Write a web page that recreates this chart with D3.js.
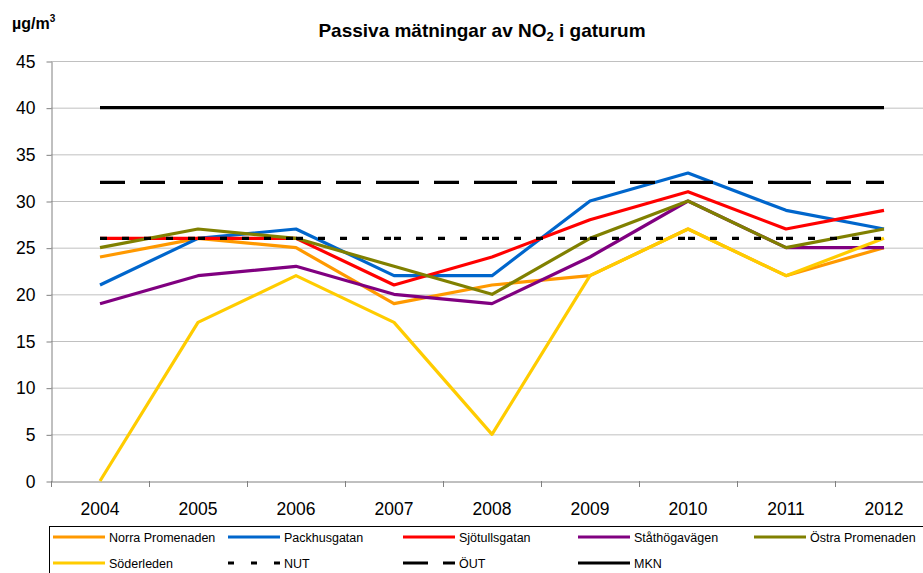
<!DOCTYPE html>
<html><head><meta charset="utf-8">
<script src="https://cdn.jsdelivr.net/npm/d3@7"></script>
<style>body{margin:0;background:#fff}svg{display:block;font-family:"Liberation Sans",Arial,sans-serif}</style>
</head><body>
<svg id="c" width="923" height="573"></svg>
<script>
const years = ["2004","2005","2006","2007","2008","2009","2010","2011","2012"];
const yTicks = [0,5,10,15,20,25,30,35,40,45];
const norraPromenaden = [24,26,25,19,21,22,27,22,25];
const packhusgatan    = [21,26,27,22,22,30,33,29,27];
const sjotullsgatan   = [26,26,26,21,24,28,31,27,29];
const stathogavagen   = [19,22,23,20,19,24,30,25,25];
const ostraPromenaden = [25,27,26,23,20,26,30,25,27];
const soderleden      = [0,17,22,17,5,22,27,22,26];
const nut = [26,26,26,26,26,26,26,26,26];
const out = [32,32,32,32,32,32,32,32,32];
const mkn = [40,40,40,40,40,40,40,40,40];

const series = [
  {name:"Norra Promenaden", values:norraPromenaden, color:"#FF9900", dash:null},
  {name:"Packhusgatan", values:packhusgatan, color:"#0066CC", dash:null},
  {name:"Sjötullsgatan", values:sjotullsgatan, color:"#FF0000", dash:null},
  {name:"Ståthögavägen", values:stathogavagen, color:"#800080", dash:null},
  {name:"Östra Promenaden", values:ostraPromenaden, color:"#808000", dash:null},
  {name:"Söderleden", values:soderleden, color:"#FFCC00", dash:null},
  {name:"NUT", values:nut, color:"#000000", dash:"7,15"},
  {name:"ÖUT", values:out, color:"#000000", dash:"25,15"},
  {name:"MKN", values:mkn, color:"#000000", dash:null}
];

const svg = d3.select("#c");
const x = d3.scaleBand().domain(years).range([51,933]).padding(0);
const y = d3.scaleLinear().domain([0,45]).range([481,61]);
const cx = d => x(d) + x.bandwidth()/2;
const FF = "Liberation Sans, Arial, sans-serif";

// gridlines
svg.append("g").selectAll("line").data(yTicks.filter(t=>t>0)).join("line")
  .attr("x1",51).attr("x2",923).attr("y1",d=>y(d)+0.5).attr("y2",d=>y(d)+0.5)
  .attr("stroke","#c0c0c0").attr("stroke-width",1);

// y axis
const ya = svg.append("g").attr("transform","translate(51.5,0.5)")
  .call(d3.axisLeft(y).tickValues(yTicks).tickSize(5).tickSizeOuter(0).tickPadding(11));
ya.select(".domain").attr("stroke","#808080");
ya.selectAll(".tick line").attr("stroke","#808080");
ya.selectAll("text").attr("font-size","17.5px").attr("fill","#000").attr("font-family",FF);

// x axis
const xa = svg.append("g").attr("transform","translate(0,481.5)")
  .call(d3.axisBottom(x).tickSize(0).tickPadding(21).tickSizeOuter(0));
xa.select(".domain").attr("stroke","#808080");
xa.selectAll("text").attr("font-size","17.5px").attr("fill","#000").attr("font-family",FF);
svg.append("g").selectAll("line").data(years).join("line")
  .attr("x1",d=>Math.round(x(d))+0.5).attr("x2",d=>Math.round(x(d))+0.5)
  .attr("y1",481).attr("y2",487).attr("stroke","#808080");

// series lines: drawn segment by segment (dash pattern restarts at each point)
series.forEach(s=>{
  const g = svg.append("g");
  if(s.dash){
    const segs = d3.pairs(s.values.map((v,i)=>[cx(years[i]), y(v)]));
    g.selectAll("line").data(segs).join("line")
      .attr("x1",d=>d[0][0]).attr("y1",d=>d[0][1]).attr("x2",d=>d[1][0]).attr("y2",d=>d[1][1])
      .attr("stroke",s.color).attr("stroke-width",3.2).attr("stroke-dasharray",s.dash);
  } else {
    const line = d3.line().x((v,i)=>cx(years[i])).y(v=>y(v));
    g.append("path").attr("d",line(s.values)).attr("fill","none")
      .attr("stroke",s.color).attr("stroke-width",3.2).attr("stroke-linejoin","round");
  }
});

// title
const t = svg.append("text").attr("x",482).attr("y",37).attr("text-anchor","middle")
  .attr("font-size","19px").attr("font-weight","bold");
t.append("tspan").text("Passiva mätningar av NO");
t.append("tspan").attr("font-size","13px").attr("dy",4).text("2");
t.append("tspan").attr("dy",-4).text(" i gaturum");

// unit
const u = svg.append("text").attr("x",12).attr("y",29).attr("font-size","16px").attr("font-weight","bold");
u.append("tspan").text("µg/m");
u.append("tspan").attr("font-size","10px").attr("dy",-7).text("3");

// legend
svg.append("rect").attr("x",49.5).attr("y",526.5).attr("width",900).attr("height",80)
  .attr("fill","#fff").attr("stroke","#000").attr("stroke-width",1);
const colX = [53,228,403,578,754];
const rowY = [537,563];
const lg = svg.append("g").selectAll("g").data(series).join("g")
  .attr("transform",(d,i)=>`translate(${colX[i%5]},${rowY[Math.floor(i/5)]})`);
lg.each(function(s){
  const g = d3.select(this);
  g.append("line").attr("x1",0).attr("x2",52).attr("y1",0).attr("y2",0)
    .attr("stroke",s.color).attr("stroke-width",3.2)
    .attr("stroke-dasharray", s.name==="NUT" ? "6,17" : (s.name==="ÖUT" ? "25,15" : null));
  g.append("text").attr("x",56).attr("y",4.5).attr("font-size","12.5px").attr("fill","#000").text(s.name);
});
</script>
</body></html>
